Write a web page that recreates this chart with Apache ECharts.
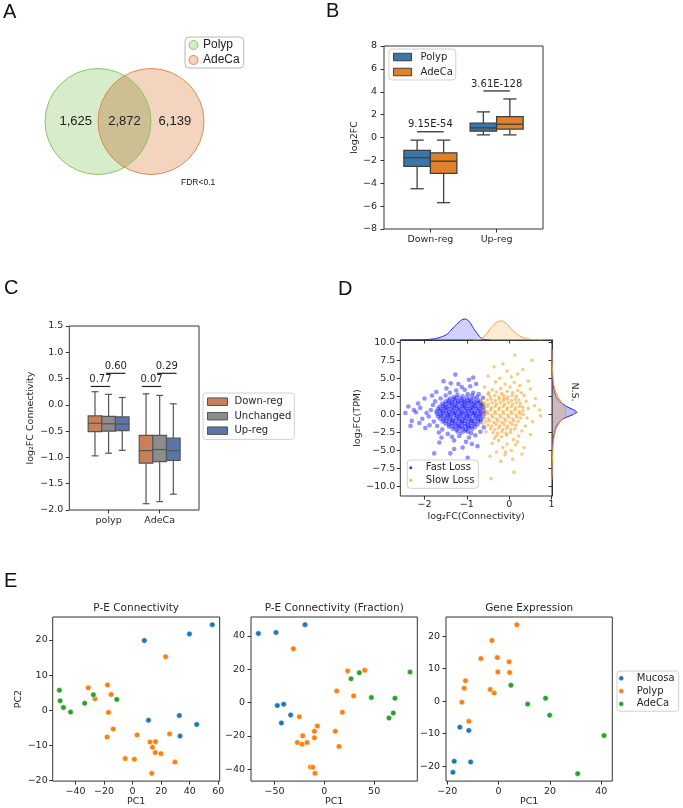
<!DOCTYPE html>
<html><head><meta charset="utf-8">
<script src="https://cdn.jsdelivr.net/npm/echarts@6/dist/echarts.min.js"></script>
<style>html,body{margin:0;padding:0;background:#fff}#c{width:683px;height:808px}</style>
</head><body><div id="c"></div>
<script>
// ---------------- DATA ----------------
// A: Venn
const vennSets = ['Polyp', 'AdeCa'];
const vennCounts = [1625, 2872, 6139];
// B: log2FC boxplots [low whisker, Q1, median, Q3, high whisker]
const bCategories = ['Down-reg', 'Up-reg'];
const bPolyp = [[-4.48, -2.53, -1.77, -1.13, -0.23], [0.23, 0.55, 0.84, 1.25, 2.24]];
const bAdeCa = [[-5.70, -3.14, -2.07, -1.34, -0.23], [0.23, 0.73, 1.16, 1.83, 3.37]];
const bPvals = ['9.15E-54', '3.61E-128'];
const bPvalY = [0.5, 4.07];
// C: connectivity boxplots
const cCategories = ['polyp', 'AdeCa'];
const cDown = [[-0.97, -0.51, -0.35, -0.21, 0.25], [-1.88, -1.11, -0.87, -0.58, 0.21]];
const cUnch = [[-0.92, -0.50, -0.36, -0.22, 0.20], [-1.84, -1.08, -0.85, -0.58, 0.18]];
const cUp = [[-0.865, -0.49, -0.365, -0.23, 0.14], [-1.70, -1.055, -0.87, -0.63, 0.02]];
const cPvals = [['0.77', '0.60'], ['0.07', '0.29']];
const cPvalY = [0.35, 0.6];
// D: scatter (log2FC connectivity, log2FC TPM)
const dFast = [
[-1.22,2.7],[-1.10,2.5],[-0.98,2.8],[-0.88,2.6],[-1.31,2.4],
[-1.40,2.2],[-1.31,2.1],[-1.24,2.3],[-1.15,2.2],[-1.07,2.0],[-1.00,2.3],[-0.92,2.1],[-0.83,2.2],[-0.76,2.4],
[-1.50,1.8],[-1.43,1.9],[-1.35,1.7],[-1.27,1.9],[-1.20,1.8],[-1.12,1.9],[-1.05,1.7],[-0.97,1.9],[-0.90,1.8],[-0.82,1.7],[-0.74,1.9],[-0.68,1.8],
[-1.58,1.5],[-1.50,1.4],[-1.43,1.6],[-1.36,1.5],[-1.28,1.4],[-1.21,1.6],[-1.13,1.5],[-1.06,1.4],[-0.99,1.6],[-0.91,1.5],[-0.84,1.4],[-0.76,1.6],[-0.69,1.5],[-0.63,1.4],
[-1.64,1.1],[-1.56,1.2],[-1.49,1.0],[-1.41,1.2],[-1.34,1.1],[-1.26,1.2],[-1.19,1.0],[-1.11,1.2],[-1.04,1.1],[-0.96,1.2],[-0.89,1.0],[-0.81,1.2],[-0.74,1.1],[-0.66,1.2],[-0.61,1.0],
[-1.68,0.8],[-1.60,0.7],[-1.53,0.9],[-1.45,0.8],[-1.38,0.7],[-1.30,0.9],[-1.23,0.8],[-1.15,0.7],[-1.08,0.9],[-1.00,0.8],[-0.93,0.7],[-0.85,0.9],[-0.78,0.8],[-0.70,0.7],[-0.63,0.9],
[-1.72,0.4],[-1.64,0.5],[-1.57,0.4],[-1.49,0.5],[-1.42,0.3],[-1.34,0.5],[-1.27,0.4],[-1.19,0.5],[-1.12,0.3],[-1.04,0.5],[-0.97,0.4],[-0.89,0.5],[-0.82,0.3],[-0.74,0.5],[-0.67,0.4],[-0.60,0.5],
[-1.70,0.1],[-1.62,0.0],[-1.55,0.2],[-1.47,0.1],[-1.40,0.0],[-1.32,0.2],[-1.25,0.1],[-1.17,0.0],[-1.10,0.2],[-1.02,0.1],[-0.95,0.0],[-0.87,0.2],[-0.80,0.1],[-0.72,0.0],[-0.65,0.2],[-0.59,0.1],
[-1.68,-0.3],[-1.60,-0.2],[-1.53,-0.3],[-1.45,-0.2],[-1.38,-0.3],[-1.30,-0.1],[-1.23,-0.3],[-1.15,-0.2],[-1.08,-0.3],[-1.00,-0.2],[-0.93,-0.3],[-0.85,-0.1],[-0.78,-0.3],[-0.70,-0.2],[-0.63,-0.3],
[-1.63,-0.6],[-1.55,-0.7],[-1.48,-0.5],[-1.40,-0.6],[-1.33,-0.7],[-1.25,-0.5],[-1.18,-0.6],[-1.10,-0.7],[-1.03,-0.5],[-0.95,-0.6],[-0.88,-0.7],[-0.80,-0.5],[-0.73,-0.6],[-0.66,-0.7],
[-1.57,-1.0],[-1.49,-0.9],[-1.42,-1.0],[-1.34,-0.9],[-1.27,-1.0],[-1.19,-0.9],[-1.12,-1.0],[-1.04,-0.9],[-0.97,-1.0],[-0.89,-0.9],[-0.82,-1.0],[-0.74,-0.9],[-0.68,-1.0],
[-1.50,-1.3],[-1.42,-1.4],[-1.35,-1.2],[-1.27,-1.3],[-1.20,-1.4],[-1.12,-1.2],[-1.05,-1.3],[-0.97,-1.4],[-0.90,-1.2],[-0.82,-1.3],[-0.75,-1.4],
[-1.42,-1.7],[-1.34,-1.6],[-1.27,-1.7],[-1.19,-1.6],[-1.12,-1.7],[-1.04,-1.6],[-0.97,-1.7],[-0.89,-1.6],[-0.81,-1.7],
[-1.33,-2.0],[-1.25,-2.1],[-1.18,-1.9],[-1.10,-2.0],[-1.02,-2.1],[-0.95,-1.9],[-0.87,-2.0],
[-1.22,-2.4],[-1.13,-2.5],[-1.05,-2.3],[-0.97,-2.4],[-0.90,-2.6],
[-1.85,0.6],[-1.90,-0.3],[-1.80,1.3],[-1.78,-1.0],[-1.95,0.2],[-2.05,-0.6],[-1.88,-1.5],[-2.10,0.9],[-1.75,1.8],[-1.70,-1.6],
[-1.62,2.2],[-1.58,-2.1],[-1.66,-2.5],[-1.50,2.6],[-1.45,-2.7],[-1.40,3.0],[-1.35,-3.1],[-1.25,3.3],[-1.18,-3.0],[-1.05,3.4],
[-0.95,-3.2],[-0.85,3.0],[-0.80,-2.9],[-0.72,2.8],[-0.68,-2.4],[-0.62,2.3],[-0.60,-1.8],[-1.30,-3.6],[-1.12,3.8],[-0.92,3.9],
[-1.48,3.6],[-1.02,-3.8],[-1.60,-3.2],[-1.20,4.2],[-0.88,-4.1],[-1.38,4.3],[-0.78,4.2],[-2.20,0.3],[-2.30,-0.9],[-2.15,1.5],
[-1.98,-1.9],[-2.25,0.6],[-1.27,5.5],[-0.98,-6.0],[-1.77,-5.4],[-1.39,-5.4],[-2.45,0.2],[-2.33,-1.6],[-0.85,5.1],[-1.10,-4.6],
[-1.55,4.6],[-0.95,4.8],[-2.00,2.2],[-1.65,-3.9],[-1.30,-4.8],[-0.75,-4.4],[-2.38,1.1],[-1.82,2.6],[-2.12,-1.2],[-1.72,3.1]
];
const dSlow = [
[-0.30,3.1],[-0.18,2.9],[-0.05,3.2],[0.08,3.0],
[-0.45,2.5],[-0.34,2.6],[-0.24,2.4],[-0.13,2.6],[-0.03,2.4],[0.07,2.6],[0.17,2.5],
[-0.52,2.0],[-0.43,2.1],[-0.33,1.9],[-0.24,2.1],[-0.14,1.9],[-0.05,2.1],[0.05,1.9],[0.14,2.1],[0.23,2.0],
[-0.58,1.5],[-0.49,1.4],[-0.40,1.6],[-0.30,1.4],[-0.21,1.6],[-0.11,1.4],[-0.02,1.6],[0.08,1.4],[0.17,1.6],[0.26,1.5],
[-0.61,1.0],[-0.52,1.1],[-0.42,0.9],[-0.33,1.1],[-0.23,0.9],[-0.14,1.1],[-0.04,0.9],[0.05,1.1],[0.15,0.9],[0.24,1.1],[0.32,1.0],
[-0.62,0.5],[-0.53,0.4],[-0.44,0.6],[-0.34,0.4],[-0.25,0.6],[-0.15,0.4],[-0.06,0.6],[0.04,0.4],[0.13,0.6],[0.23,0.4],[0.32,0.5],
[-0.60,0.0],[-0.51,0.1],[-0.41,-0.1],[-0.32,0.1],[-0.22,-0.1],[-0.13,0.1],[-0.03,-0.1],[0.06,0.1],[0.16,-0.1],[0.25,0.1],[0.33,0.0],
[-0.58,-0.5],[-0.49,-0.6],[-0.39,-0.4],[-0.30,-0.6],[-0.20,-0.4],[-0.11,-0.6],[-0.01,-0.4],[0.08,-0.6],[0.18,-0.4],[0.27,-0.5],
[-0.55,-1.0],[-0.46,-0.9],[-0.36,-1.1],[-0.27,-0.9],[-0.17,-1.1],[-0.08,-0.9],[0.02,-1.1],[0.11,-0.9],[0.21,-1.0],
[-0.50,-1.5],[-0.41,-1.6],[-0.31,-1.4],[-0.22,-1.6],[-0.12,-1.4],[-0.03,-1.6],[0.07,-1.4],[0.16,-1.5],
[-0.44,-2.0],[-0.34,-2.1],[-0.25,-1.9],[-0.15,-2.1],[-0.06,-1.9],[0.04,-2.1],[0.13,-2.0],
[-0.38,-2.5],[-0.27,-2.6],[-0.17,-2.4],[-0.07,-2.6],[0.03,-2.5],
[-0.30,-3.0],[-0.18,-3.1],[-0.06,-2.9],
[-0.20,3.6],[0.02,3.8],[-0.40,3.4],[0.20,3.3],[-0.10,4.2],[0.12,4.4],[-0.32,4.5],[0.25,4.0],[-0.48,3.0],[0.35,2.6],
[0.40,1.8],[0.45,0.8],[0.42,-0.5],[0.38,-1.6],[0.30,-2.3],[-0.55,-2.4],[-0.50,2.8],[-0.25,-3.6],[0.10,-3.5],[-0.05,-4.1],
[-0.15,-4.6],[0.05,-5.0],[-0.30,-5.2],[-0.10,-5.6],[0.15,-4.2],[-0.40,-4.0],[0.22,-3.0],[0.05,5.2],[-0.22,5.0],[0.20,5.6],
[-0.05,6.0],[-0.36,6.6],[0.13,8.2],[0.54,7.5],[0.50,3.5],[0.60,1.2],[0.72,0.6],[0.74,-0.2],[0.55,-1.0],[0.50,-2.8],
[0.35,-4.6],[-0.43,-8.9],[0.11,-8.0],[-0.45,-5.8],[-0.20,-6.5],[0.08,-6.2],[0.30,-5.5],[-0.58,3.8],[-0.62,-1.3],[-0.65,1.8],
[0.62,2.2],[0.45,4.6],[-0.15,7.0],[0.32,6.2],[-0.50,5.3],[-0.09,-5.2],[0.20,-3.8],[-0.35,-3.3],[0.28,3.0],[-0.12,2.2]
];
// D marginal densities: [x, density] (top) and [density, y] (right)
const dTopFast = [[-2.57,0],[-2.3,0.1],[-2.05,0.3],[-1.85,0.8],[-1.66,2.3],[-1.5,5],[-1.42,7.5],[-1.35,11],[-1.27,14.5],[-1.19,17.7],[-1.12,20],[-1.06,21],[-1.0,20.3],[-0.94,18.3],[-0.89,15],[-0.84,11.7],[-0.78,8],[-0.73,5],[-0.68,2.5],[-0.63,1],[-0.55,0.2],[-0.45,0]];
const dTopSlow = [[-0.85,0],[-0.72,0.4],[-0.64,2],[-0.56,5],[-0.5,8],[-0.44,11.7],[-0.38,14.5],[-0.32,17],[-0.25,18.5],[-0.18,19],[-0.11,18],[-0.05,15.7],[0.01,13],[0.07,10],[0.13,7.6],[0.19,5.7],[0.25,4],[0.31,2.7],[0.39,1.7],[0.46,1],[0.6,0.3],[0.8,0]];
const dRightFast = [[0,9],[0.1,7],[0.3,5.5],[1,4.3],[2,3.4],[4,2.45],[8,1.75],[12,1.35],[15,1.06],[19,0.8],[22,0.6],[25,0.28],[22.5,0.1],[20,-0.1],[16,-0.3],[12,-0.55],[9,-0.85],[6,-1.25],[4.2,-1.7],[3,-2.2],[1.8,-2.9],[1,-3.6],[0.3,-5],[0.1,-6.5],[0,-8.5]];
const dRightSlow = [[0,9],[0.3,6.8],[1,5.2],[1.8,4.2],[3,3.4],[5,2.7],[8,2.0],[11,1.3],[13,0.83],[13.8,0.5],[14,0.2],[13.5,-0.1],[12,-0.4],[9,-0.9],[6,-1.5],[4.2,-2.0],[3,-2.6],[1.8,-3.4],[1,-4.5],[0.3,-6.8],[0,-9]];
// E: PCA
const eTitles = ['P-E Connectivity', 'P-E Connectivity (Fraction)', 'Gene Expression'];
const eGroups = ['Mucosa', 'Polyp', 'AdeCa'];
const e1Mucosa = [[8.2,19.8],[39.8,21.7],[55.8,24.3],[11.1,-2.8],[32.7,-1.5],[44.9,-4.0],[33.2,-7.3]];
const e1Polyp = [[23.1,15.2],[-31.1,6.4],[-26.4,3.3],[-17.6,7.2],[-15.1,4.5],[-16.9,-0.6],[-13.6,-5.3],[-17.9,-7.6],[3.1,-7.0],[12.2,-9.0],[16.0,-8.9],[13.9,-10.5],[15.8,-12.0],[19.8,-12.3],[25.9,-6.7],[-5.2,-13.7],[1.2,-13.9],[29.6,-14.7],[13.4,-17.9]];
const e1AdeCa = [[-51.3,5.7],[-50.8,2.7],[-48.5,0.8],[-43.5,-0.5],[-33.6,2.0],[-27.5,4.4],[-11.1,3.1]];
const e2Mucosa = [[-66.2,41.5],[-48.5,42.1],[-19.4,46.8],[-47.2,-1.8],[-40.8,-1.0],[-33.8,-7.5],[-43.1,-12.3]];
const e2Polyp = [[-31.1,32.3],[23.4,19.0],[40.5,19.4],[12.4,6.9],[29.4,4.0],[18.1,-5.8],[-25.1,-8.5],[-7.0,-14.1],[-10.0,-17.3],[-21.7,-20.0],[-10.0,-21.2],[11.0,-17.3],[-27.1,-24.0],[-17.4,-24.0],[-22.4,-25.0],[14.7,-26.4],[-14.0,-38.7],[-11.7,-38.9],[-9.4,-42.5]];
const e2AdeCa = [[26.8,14.3],[35.1,17.9],[86.0,18.3],[47.2,3.0],[70.9,2.6],[69.2,-6.3],[64.9,-9.3]];
const e3Mucosa = [[-15.1,-8.0],[-11.6,-9.0],[-17.3,-18.5],[-10.9,-18.7],[-17.8,-21.9]];
const e3Polyp = [[7.1,23.5],[-2.6,18.7],[-6.9,13.1],[-0.5,13.4],[4.1,12.1],[-0.3,9.0],[4.3,8.8],[-12.9,6.3],[-13.4,4.0],[-3.3,3.6],[-1.7,2.5],[-14.3,-0.3],[-11.6,-6.2]];
const e3AdeCa = [[4.8,4.9],[11.3,-0.9],[18.3,0.9],[19.9,-4.3],[41.1,-10.6],[30.8,-22.3]];
// tick values
const bYTicks = [-8,-6,-4,-2,0,2,4,6,8];
const cYTicks = [-2,-1.5,-1,-0.5,0,0.5,1,1.5];
const dXTicks = [-2,-1,0,1];
const dYTicks = [-10,-7.5,-5,-2.5,0,2.5,5,7.5,10];
const e1XTicks = [-40,-20,0,20,40,60], e1YTicks = [-20,-10,0,10,20];
const e2XTicks = [-50,0,50], e2YTicks = [-40,-20,0,20,40];
const e3XTicks = [-20,0,20,40], e3YTicks = [-20,-10,0,10,20];

// ---------------- STYLE / LAYOUT ----------------
const FONT = 'DejaVu Sans', AFONT = 'Liberation Sans';
const TXT = '#262626', SPINE = '#333';
const minus = s => String(s).replace('-', '\u2212');
const fmtNum = v => minus(v);
const fmt1 = v => minus(Number(v).toFixed(1));
const frame = {show: true, borderColor: SPINE, borderWidth: 1, backgroundColor: 'rgba(0,0,0,0)'};
const grids = [
  {left: 45, top: 68.5, width: 159, height: 106},                 // 0 Venn
  Object.assign({left: 384, top: 46, width: 159, height: 183}, frame),   // 1 B
  Object.assign({left: 69.3, top: 326, width: 129.7, height: 184}, frame), // 2 C
  Object.assign({left: 400.3, top: 340, width: 151.7, height: 156}, frame), // 3 D main
  {left: 400.3, top: 312, width: 151.7, height: 28},              // 4 D top marginal
  {left: 552, top: 340, width: 30, height: 156},                  // 5 D right marginal
  Object.assign({left: 52.7, top: 617, width: 167, height: 165.7}, frame), // 6 E1
  Object.assign({left: 251, top: 617, width: 166.3, height: 165.7}, frame), // 7 E2
  Object.assign({left: 446, top: 617, width: 166.3, height: 165.7}, frame)  // 8 E3
];
function axis(gi, min, max, ticks, o) {
  o = o || {};
  const a = {
    type: 'value', gridIndex: gi, min: min, max: max,
    axisLine: {show: !!o.line, onZero: false, lineStyle: {color: SPINE, width: 1}},
    splitLine: {show: false},
    axisTick: {show: true, length: 3.5, customValues: ticks, lineStyle: {color: SPINE, width: 1}},
    axisLabel: {show: o.labels !== false, customValues: ticks, margin: o.margin || 6, fontSize: 9.5,
      fontFamily: FONT, color: TXT, formatter: o.fmt || fmtNum},
    nameTextStyle: {fontSize: 9.5, fontFamily: FONT, color: TXT}
  };
  if (o.name) { a.name = o.name; a.nameLocation = 'middle'; a.nameGap = o.gap; }
  return a;
}
const hidden = (gi, min, max) => ({type: 'value', gridIndex: gi, min: min, max: max, show: false, axisLine: {onZero: false}});

const xAxes = [
  hidden(0, -1, 2),
  axis(1, -0.7, 1.7, [0, 1], {fmt: v => bCategories[v], margin: 6}),
  axis(2, -0.77, 1.77, [0, 1], {fmt: v => cCategories[v], margin: 6}),
  axis(3, -2.57, 1.01, dXTicks, {margin: 4, name: 'log\u2082FC(Connectivity)', gap: 16}),
  axis(4, -2.57, 1.01, dXTicks, {labels: false, line: true}),
  hidden(5, 0, 30),
  axis(6, -56, 61, e1XTicks, {margin: 5, name: 'PC1', gap: 15}),
  axis(7, -73.6, 93.3, e2XTicks, {margin: 5, name: 'PC1', gap: 15}),
  axis(8, -20.5, 44.3, e3XTicks, {margin: 5, name: 'PC1', gap: 15})
];
const yAxes = [
  hidden(0, -1, 1),
  axis(1, -8, 8, bYTicks, {margin: 7, name: 'log2FC', gap: 24}),
  axis(2, -2, 1.5, cYTicks, {margin: 6, fmt: fmt1, name: 'log\u2082FC Connectivity', gap: 34}),
  axis(3, -11.3, 10.3, dYTicks, {margin: 5, fmt: fmt1, name: 'log\u2082FC(TPM)', gap: 36}),
  hidden(4, 0, 28),
  axis(5, -11.3, 10.3, dYTicks, {labels: false, line: true}),
  axis(6, -20.1, 26.5, e1YTicks, {margin: 5, name: 'PC2', gap: 26}),
  axis(7, -47.2, 51.4, e2YTicks, {margin: 6}),
  axis(8, -24.6, 25.9, e3YTicks, {margin: 6})
];

// colors
const VENN = {fillL: '#d6ecca', fillR: '#f3d4bf', fillI: '#cdbf92', strokeL: '#8dc46a', strokeR: '#e08a52'};
const B_COL = ['#3a77a8', '#e1812c'];
const C_COL = ['#c8805a', '#8c8c8c', '#5a76a8'];
const D_COL = ['rgba(10,10,255,0.55)', 'rgba(240,160,40,0.7)'];
const E_COL = ['#1f77b4', '#ff7f0e', '#2ca02c'];

// ---------------- SERIES ----------------
const series = [];
// Venn
series.push({
  type: 'custom', name: 'venn', xAxisIndex: 0, yAxisIndex: 0, silent: true,
  data: vennSets.map((s, i) => [i, 0]),
  renderItem: function (p, api) {
    if (p.dataIndex !== 0) return null;
    const c1 = api.coord([0, 0]), c2 = api.coord([1, 0]);
    const R = api.size([1, 0])[0];
    const dx = c2[0] - c1[0];
    const h = Math.sqrt(R * R - dx * dx / 4);
    const mx = (c1[0] + c2[0]) / 2;
    const t = [mx, c1[1] - h], b = [mx, c1[1] + h];
    const lens = 'M' + t[0] + ' ' + t[1] + ' A' + R + ' ' + R + ' 0 0 0 ' + b[0] + ' ' + b[1] +
                 ' A' + R + ' ' + R + ' 0 0 0 ' + t[0] + ' ' + t[1] + ' Z';
    const lblX = [-0.42, 0.5, 1.45];
    const texts = vennCounts.map((v, i) => {
      const q = api.coord([lblX[i], 0]);
      return {type: 'text', x: q[0], y: q[1], style: {text: v.toLocaleString('en-US'), align: 'center', verticalAlign: 'middle',
        textAlign: 'center', textVerticalAlign: 'middle', fontSize: 13, fontFamily: AFONT, fill: '#222'}};
    });
    return {type: 'group', children: [
      {type: 'circle', shape: {cx: c1[0], cy: c1[1], r: R}, style: {fill: VENN.fillL}},
      {type: 'circle', shape: {cx: c2[0], cy: c2[1], r: R}, style: {fill: VENN.fillR}},
      {type: 'path', shape: {pathData: lens}, style: {fill: VENN.fillI}},
      {type: 'circle', shape: {cx: c1[0], cy: c1[1], r: R}, style: {fill: 'none', stroke: VENN.strokeL, lineWidth: 1}},
      {type: 'circle', shape: {cx: c2[0], cy: c2[1], r: R}, style: {fill: 'none', stroke: VENN.strokeR, lineWidth: 1}}
    ].concat(texts)};
  }
});

function boxSeries(name, gi, stats, off, w, color, lc, lw) {
  return {
    type: 'custom', name: name, xAxisIndex: gi, yAxisIndex: gi, silent: true,
    itemStyle: {color: color},
    data: stats.map((s, i) => [i].concat(s)),
    encode: {x: 0, y: [1, 2, 3, 4, 5]},
    renderItem: function (p, api) {
      const c = api.value(0) + off;
      const lo = api.value(1), q1 = api.value(2), md = api.value(3), q3 = api.value(4), hi = api.value(5);
      const a = api.coord([c - w / 2, q3]), b = api.coord([c + w / 2, q1]);
      const m = api.coord([c, md]);
      const yl = api.coord([c, lo])[1], yh = api.coord([c, hi])[1];
      const cw = (b[0] - a[0]) / 4;
      const ls = {stroke: lc, lineWidth: lw};
      return {type: 'group', children: [
        {type: 'line', shape: {x1: m[0], y1: b[1], x2: m[0], y2: yl}, style: ls},
        {type: 'line', shape: {x1: m[0], y1: a[1], x2: m[0], y2: yh}, style: ls},
        {type: 'line', shape: {x1: m[0] - cw, y1: yl, x2: m[0] + cw, y2: yl}, style: ls},
        {type: 'line', shape: {x1: m[0] - cw, y1: yh, x2: m[0] + cw, y2: yh}, style: ls},
        {type: 'rect', shape: {x: a[0], y: a[1], width: b[0] - a[0], height: b[1] - a[1]}, style: {fill: color, stroke: lc, lineWidth: lw}},
        {type: 'line', shape: {x1: a[0], y1: m[1], x2: b[0], y2: m[1]}, style: ls}
      ]};
    }
  };
}
function pvalSeries(gi, items, texts) {
  // items: [x0, x1, y]
  return {
    type: 'custom', name: 'pval' + gi, xAxisIndex: gi, yAxisIndex: gi, silent: true,
    data: items,
    renderItem: function (p, api) {
      const a = api.coord([api.value(0), api.value(2)]), b = api.coord([api.value(1), api.value(2)]);
      return {type: 'group', children: [
        {type: 'line', shape: {x1: a[0], y1: a[1], x2: b[0], y2: b[1]}, style: {stroke: '#222', lineWidth: 1.2}},
        {type: 'text', x: (a[0] + b[0]) / 2, y: a[1] - 2, style: {text: texts[p.dataIndex], align: 'center', verticalAlign: 'bottom',
          textAlign: 'center', textVerticalAlign: 'bottom', fontSize: 10, fontFamily: FONT, fill: TXT}}
      ]};
    }
  };
}
// B
series.push(boxSeries('Polyp', 1, bPolyp, -0.2, 0.4, B_COL[0], '#3f3f3f', 1.3));
series.push(boxSeries('AdeCa', 1, bAdeCa, 0.2, 0.4, B_COL[1], '#3f3f3f', 1.3));
series.push(pvalSeries(1, bPvalY.map((y, i) => [i - 0.2, i + 0.2, y]), bPvals));
// C
const cHue = [-0.267, 0, 0.267];
series.push(boxSeries('Down-reg', 2, cDown, cHue[0], 0.267, C_COL[0], '#555', 1.2));
series.push(boxSeries('Unchanged', 2, cUnch, cHue[1], 0.267, C_COL[1], '#555', 1.2));
series.push(boxSeries('Up-reg', 2, cUp, cHue[2], 0.267, C_COL[2], '#555', 1.2));
const cSpans = [[-0.35, 0.03], [-0.05, 0.33]];
const cItems = [], cTexts = [];
cPvals.forEach((pair, ci) => pair.forEach((t, k) => { cItems.push([ci + cSpans[k][0], ci + cSpans[k][1], cPvalY[k]]); cTexts.push(t); }));
series.push(pvalSeries(2, cItems, cTexts));
// D scatter
series.push({type: 'scatter', name: 'Fast Loss', xAxisIndex: 3, yAxisIndex: 3, data: dFast, symbolSize: 4.6, silent: true,
  itemStyle: {color: D_COL[0]}});
series.push({type: 'scatter', name: 'Slow Loss', xAxisIndex: 3, yAxisIndex: 3, data: dSlow, symbolSize: 3.6, silent: true,
  itemStyle: {color: D_COL[1]}});
// D top marginal
series.push({type: 'line', name: 'topFast', xAxisIndex: 4, yAxisIndex: 4, data: dTopFast, smooth: true, symbol: 'none', silent: true,
  lineStyle: {color: '#2020ff', width: 1}, areaStyle: {color: 'rgba(40,40,255,0.3)'}});
series.push({type: 'line', name: 'topSlow', xAxisIndex: 4, yAxisIndex: 4, data: dTopSlow, smooth: true, symbol: 'none', silent: true,
  lineStyle: {color: '#f0a030', width: 1}, areaStyle: {color: 'rgba(240,170,60,0.32)'}});
// D right marginal
function vKde(name, arr, stroke, fill) {
  return {
    type: 'custom', name: name, xAxisIndex: 5, yAxisIndex: 5, silent: true, data: [0],
    renderItem: function (p, api) {
      const pts = arr.map(d => api.coord(d));
      return {type: 'group', children: [
        {type: 'polygon', shape: {points: pts}, style: {fill: fill}},
        {type: 'polyline', shape: {points: pts, smooth: 0.25}, style: {stroke: stroke, lineWidth: 1, fill: 'none'}}
      ]};
    }
  };
}
series.push(vKde('rightFast', dRightFast, '#2020ff', 'rgba(40,40,255,0.3)'));
series.push(vKde('rightSlow', dRightSlow, '#f0a030', 'rgba(240,170,60,0.32)'));
// E
const eData = [[e1Mucosa, e1Polyp, e1AdeCa], [e2Mucosa, e2Polyp, e2AdeCa], [e3Mucosa, e3Polyp, e3AdeCa]];
eData.forEach((grp, pi) => grp.forEach((d, gi) => {
  series.push({type: 'scatter', name: eGroups[gi], xAxisIndex: 6 + pi, yAxisIndex: 6 + pi, data: d, symbolSize: 5.5, silent: true,
    itemStyle: {color: E_COL[gi], borderColor: '#fff', borderWidth: 0.5, opacity: 1}});
}));

// ---------------- LEGENDS ----------------
const legBase = {orient: 'vertical', selectedMode: false, backgroundColor: '#fff', borderColor: '#d0d0d0', borderWidth: 1, borderRadius: 3,
  textStyle: {fontSize: 10, fontFamily: FONT, color: TXT}};
const legends = [
  Object.assign({}, legBase, {left: 185, top: 37, padding: [2, 4, 2, 3.5], itemGap: 3, itemWidth: 9, itemHeight: 9, borderColor: '#b8b8b8', borderRadius: 4,
    textStyle: {fontSize: 12, fontFamily: AFONT, color: '#222'},
    data: [{name: vennSets[0], icon: 'circle', itemStyle: {color: VENN.fillL, borderColor: VENN.strokeL, borderWidth: 1}},
           {name: vennSets[1], icon: 'circle', itemStyle: {color: VENN.fillR, borderColor: VENN.strokeR, borderWidth: 1}}]}),
  Object.assign({}, legBase, {left: 389, top: 49, padding: [3, 3, 3, 4], itemGap: 5, itemWidth: 18, itemHeight: 7.5,
    textStyle: {fontSize: 10, fontFamily: FONT, color: TXT, padding: [0, 0, 0, 4]},
    data: [{name: 'Polyp', icon: 'rect', itemStyle: {color: B_COL[0], borderColor: '#3f3f3f', borderWidth: 1}},
           {name: 'AdeCa', icon: 'rect', itemStyle: {color: B_COL[1], borderColor: '#3f3f3f', borderWidth: 1}}]}),
  Object.assign({}, legBase, {left: 203, top: 393, padding: [3.7, 3, 3.7, 4], itemGap: 4.5, itemWidth: 20, itemHeight: 7.5,
    textStyle: {fontSize: 10, fontFamily: FONT, color: TXT, padding: [0, 0, 0, 2]},
    data: ['Down-reg', 'Unchanged', 'Up-reg'].map((n, i) => ({name: n, icon: 'rect', itemStyle: {color: C_COL[i], borderColor: '#555', borderWidth: 1}}))}),
  Object.assign({}, legBase, {left: 407.3, top: 460, padding: [2.7, 4, 3, 2], itemGap: 2.6, itemWidth: 20, itemHeight: 3,
    data: [{name: 'Fast Loss', icon: 'circle', itemStyle: {color: '#0000ff', borderWidth: 0}},
           {name: 'Slow Loss', icon: 'circle', itemStyle: {color: '#f0a030', borderWidth: 0}}]}),
  Object.assign({}, legBase, {left: 617, top: 671, padding: [2.3, 4, 2.3, 1.5], itemGap: 2.8, itemWidth: 21, itemHeight: 5,
    data: eGroups.map((n, i) => ({name: n, icon: 'circle', itemStyle: {color: E_COL[i], borderColor: '#fff', borderWidth: 0.5}}))})
];

// ---------------- TEXT ----------------
function txt(x, y, s, size, family, extra) {
  return Object.assign({type: 'text', x: x, y: y, silent: true,
    style: {text: s, fontSize: size, fontFamily: family, fill: '#111', align: 'left', verticalAlign: 'middle',
      textAlign: 'left', textVerticalAlign: 'middle'}}, extra || {});
}
const graphics = [
  txt(3, 12, 'A', 20, AFONT), txt(326, 11, 'B', 20, AFONT), txt(4, 288, 'C', 20, AFONT),
  txt(338, 289, 'D', 20, AFONT), txt(4, 581, 'E', 20, AFONT),
  txt(181, 183, 'FDR<0.1', 8.5, AFONT, {}),
  {type: 'text', x: 574, y: 392, rotation: -Math.PI / 2, silent: true,
   style: {text: 'N.S.', fontSize: 9.5, fontFamily: FONT, fill: TXT, align: 'center', verticalAlign: 'middle', textAlign: 'center', textVerticalAlign: 'middle'}}
];
const eTitleX = [136.2, 334.2, 529.2];
eTitles.forEach((t, i) => graphics.push({type: 'text', x: eTitleX[i], y: 608.3, silent: true,
  style: {text: t, fontSize: 10.5, fontFamily: FONT, fill: TXT, align: 'center', verticalAlign: 'middle', textAlign: 'center', textVerticalAlign: 'middle'}}));

const chart = echarts.init(document.getElementById('c'), null, {renderer: 'canvas'});
chart.setOption({
  animation: false,
  backgroundColor: '#fff',
  grid: grids,
  xAxis: xAxes,
  yAxis: yAxes,
  legend: legends,
  series: series,
  graphic: graphics
});
</script></body></html>
